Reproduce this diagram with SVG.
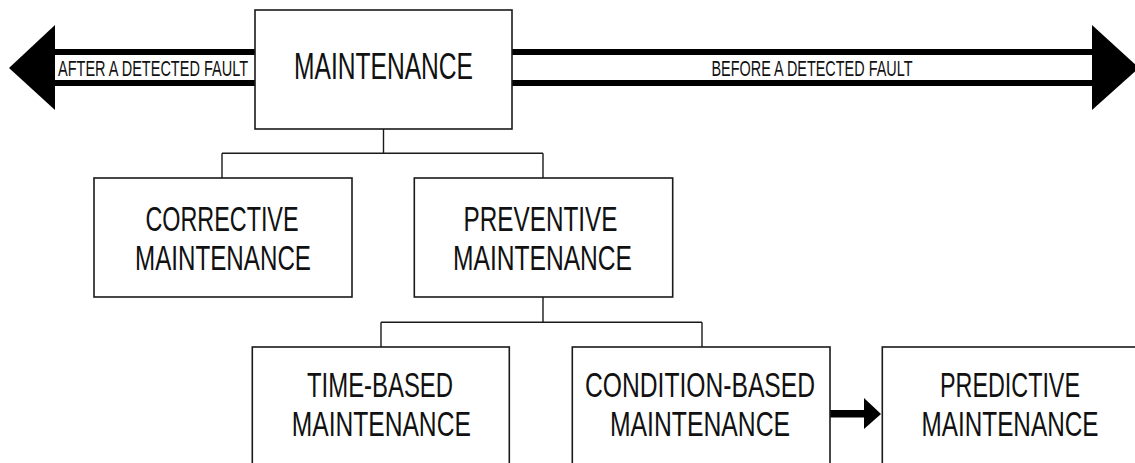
<svg xmlns="http://www.w3.org/2000/svg" width="1135" height="463" viewBox="0 0 1135 463">
  <style>
    .box { fill: #fff; stroke: #1a1a1a; stroke-width: 1.6; }
    .conn { fill: none; stroke: #1a1a1a; stroke-width: 1.4; }
    .bar { fill: #000; }
    .t { font-family: "Liberation Sans", Arial, sans-serif; fill: #111; text-anchor: middle; }
    .big { font-size: 35px; }
    .top { font-size: 36px; }
    .lbl { font-size: 22px; }
  </style>
  <rect width="1135" height="463" fill="#fff"/>

  <g id="connectors">
    <!-- left big arrow: after a detected fault -->
    <g id="arrow-after">
      <rect class="bar" x="54" y="49" width="201" height="6"/>
      <rect class="bar" x="54" y="80" width="201" height="6"/>
      <polygon class="bar" points="9,68 55,25 55,110"/>
      <text class="t lbl" x="153" y="76" textLength="190" lengthAdjust="spacingAndGlyphs">AFTER A DETECTED FAULT</text>
    </g>
    <!-- right big arrow: before a detected fault -->
    <g id="arrow-before">
      <rect class="bar" x="512" y="49" width="581" height="6"/>
      <rect class="bar" x="512" y="80" width="581" height="6"/>
      <polygon class="bar" points="1092,25 1139,68 1092,110"/>
      <text class="t lbl" x="812" y="75.5" textLength="201" lengthAdjust="spacingAndGlyphs">BEFORE A DETECTED FAULT</text>
    </g>
    <!-- tree lines -->
    <path class="conn" d="M383.5,129 V153.3 M222,153.3 H543 M222,153.3 V178 M543,153.3 V178"/>
    <path class="conn" d="M543,297 V322.3 M381,322.3 H702 M381,322.3 V347 M702,322.3 V347"/>
    <!-- condition-based to predictive -->
    <g id="arrow-cb-pred">
      <rect class="bar" x="830" y="410" width="35" height="7.5"/>
      <polygon class="bar" points="864,398 881,414 864,429"/>
    </g>
  </g>

  <g id="node-maintenance">
    <rect class="box" x="255" y="10" width="257" height="119"/>
    <text class="t top" x="383.5" y="79" textLength="179" lengthAdjust="spacingAndGlyphs">MAINTENANCE</text>
  </g>

  <g id="node-corrective">
    <rect class="box" x="94" y="178" width="258" height="119"/>
    <text class="t big" x="222" y="230.7" textLength="153" lengthAdjust="spacingAndGlyphs">CORRECTIVE</text>
    <text class="t big" x="223" y="270" textLength="176" lengthAdjust="spacingAndGlyphs">MAINTENANCE</text>
  </g>

  <g id="node-preventive">
    <rect class="box" x="414.3" y="178" width="258.4" height="119"/>
    <text class="t big" x="540.5" y="230.7" textLength="154" lengthAdjust="spacingAndGlyphs">PREVENTIVE</text>
    <text class="t big" x="542.5" y="269.5" textLength="179" lengthAdjust="spacingAndGlyphs">MAINTENANCE</text>
  </g>

  <g id="node-time-based">
    <rect class="box" x="252.3" y="347" width="257" height="130"/>
    <text class="t big" x="380" y="397" textLength="146" lengthAdjust="spacingAndGlyphs">TIME-BASED</text>
    <text class="t big" x="381.3" y="436" textLength="179" lengthAdjust="spacingAndGlyphs">MAINTENANCE</text>
  </g>

  <g id="node-condition-based">
    <rect class="box" x="572.3" y="347" width="257.7" height="130"/>
    <text class="t big" x="700" y="397" textLength="230" lengthAdjust="spacingAndGlyphs">CONDITION-BASED</text>
    <text class="t big" x="700" y="436" textLength="180" lengthAdjust="spacingAndGlyphs">MAINTENANCE</text>
  </g>

  <g id="node-predictive">
    <rect class="box" x="882.3" y="347" width="258" height="130"/>
    <text class="t big" x="1010" y="397" textLength="140" lengthAdjust="spacingAndGlyphs">PREDICTIVE</text>
    <text class="t big" x="1010" y="436" textLength="177" lengthAdjust="spacingAndGlyphs">MAINTENANCE</text>
  </g>
</svg>
